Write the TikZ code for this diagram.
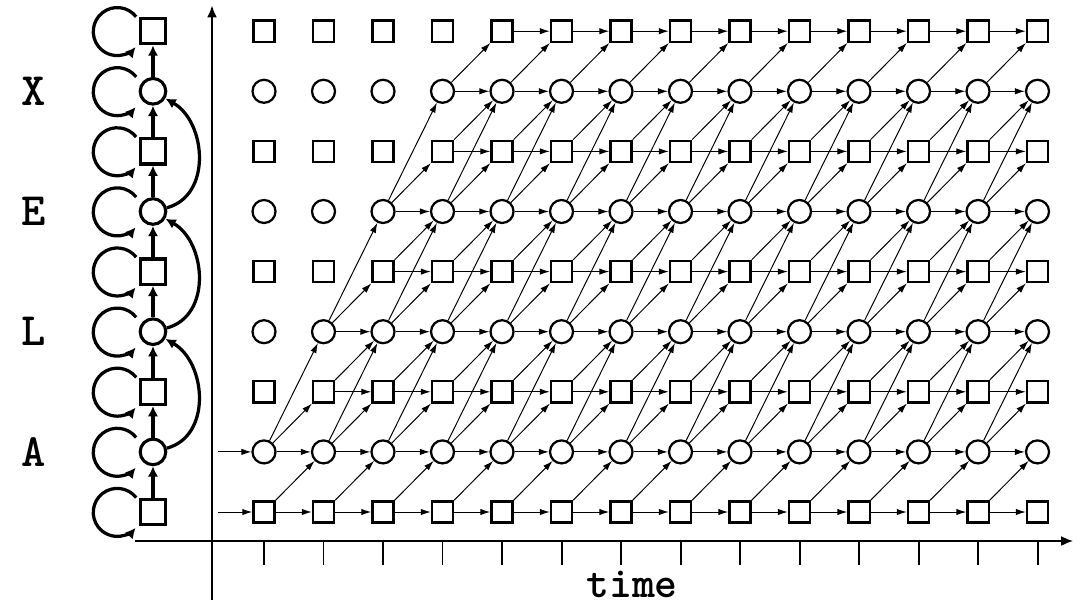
\documentclass[tikz,border=0pt]{standalone}
\usepackage{fontspec}
\usetikzlibrary{arrows.meta}

\begin{document}
\begin{tikzpicture}[
  x=1.4875cm, y=1.5025cm,
  sq/.style={draw, rectangle, minimum size=5.3mm, inner sep=0pt, line width=1.6pt},
  cir/.style={draw, circle, minimum size=5.75mm, inner sep=0pt, line width=1.6pt},
  bigsq/.style={draw, rectangle, minimum size=6.3mm, inner sep=0pt, line width=2.2pt},
  bigcir/.style={draw, circle, minimum size=6.4mm, inner sep=0pt, line width=2.2pt},
  tr/.style={-{Latex[length=2.5mm,width=1.6mm]}, line width=0.7pt},
  up/.style={-{Latex[length=2.6mm,width=2.6mm]}, line width=2.3pt},
  axis/.style={-{Latex[length=3mm,width=2.5mm]}, line width=1.6pt},
  lab/.style={inner sep=0pt, font=\ttfamily\bfseries\fontsize{33}{35}\selectfont}
]
  \useasboundingbox (-4.437,-1.547) rectangle (13.714,8.519);

  % axes
  \coordinate (yb) at (-0.874,-1.464);
  \coordinate (yt) at (-0.874,8.43);
  \coordinate (xl) at (-2.168,-0.4825);
  \coordinate (xr) at (13.6,-0.4825);
  \draw[axis] (yb) -- (yt);
  \draw[axis] (xl) -- (xr);
  \foreach \c in {0,...,13}
    \draw[line width=1.4pt] (\c,-0.4825) -- (\c,-0.882);
  \node[lab, font=\ttfamily\bfseries\fontsize{31}{33}\selectfont] (time) at (6.185,-1.2) {time};

  % state column
  \foreach \r in {0,2,...,8} \node[bigsq] (k\r) at (-1.866,\r) {};
  \foreach \r in {1,3,...,7} \node[bigcir] (k\r) at (-1.866,\r) {};
  \foreach \r in {0,...,8}
    \draw[up] ([shift={(-0.42cm,0.36cm)}]k\r.center)
      arc[start angle=38, end angle=320, radius=0.6cm];
  \foreach \r [evaluate=\r as \s using int(\r+1)] in {0,...,7}
    \draw[up] (k\r) -- (k\s);
  \foreach \r/\s in {1/3,3/5,5/7}
    \draw[up] (k\r) to[out=15, in=-30, looseness=1.1] (k\s);

  \node[lab] (la) at (-3.866,1) {A};
  \node[lab] (ll) at (-3.866,3) {L};
  \node[lab] (le) at (-3.866,5) {E};
  \node[lab] (lx) at (-3.866,7) {X};

  % trellis
  \foreach \r in {0,2,...,8} \foreach \c in {0,...,13} \node[sq] (g\c-\r) at (\c,\r) {};
  \foreach \r in {1,3,...,7} \foreach \c in {0,...,13} \node[cir] (g\c-\r) at (\c,\r) {};

  \coordinate (in0) at (-0.773,0);
  \coordinate (in1) at (-0.773,1);
  \draw[tr] (in0) -- (g0-0);
  \draw[tr] (in1) -- (g0-1);

  \foreach \c in {0,...,12} {
    \pgfmathtruncatemacro\d{\c+1}
    \pgfmathtruncatemacro\rmax{2*\c+1}
    \foreach \r in {0,...,8} {
      \pgfmathtruncatemacro\s{\r+1}
      \pgfmathtruncatemacro\t{\r+2}
      \pgfmathtruncatemacro\odd{mod(\r,2)}
      \ifnum\r>\rmax\else
        \draw[tr] (g\c-\r) -- (g\d-\r);
        \ifnum\r<8 \draw[tr] (g\c-\r) -- (g\d-\s);\fi
        \ifnum\odd=1 \ifnum\r<7 \draw[tr] (g\c-\r) -- (g\d-\t);\fi\fi
      \fi
    }
  }
\end{tikzpicture}
\end{document}
